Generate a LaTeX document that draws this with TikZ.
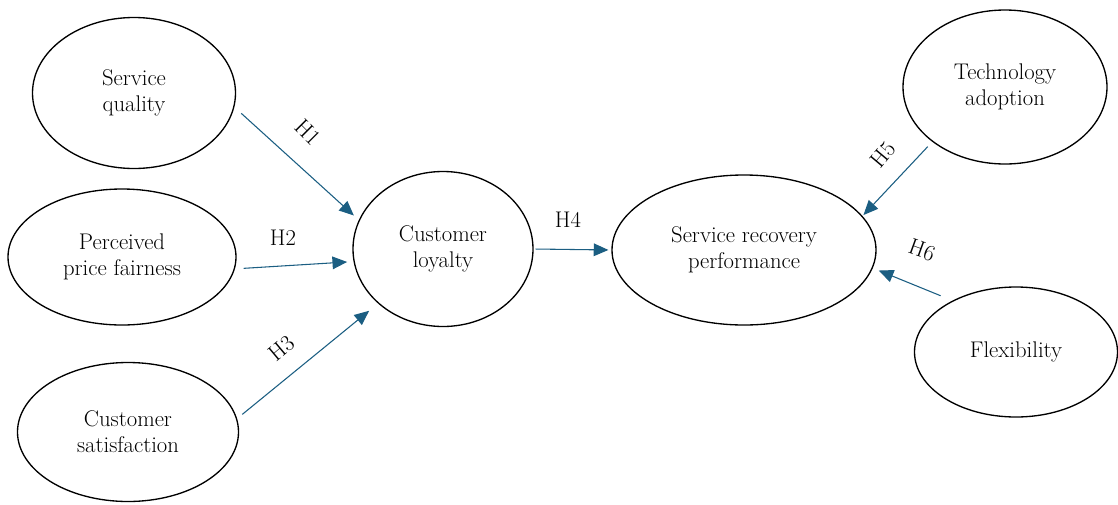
\documentclass[tikz,border=0pt]{standalone}
\usepackage{fontspec}
\setmainfont{Latin Modern Roman}
\usetikzlibrary{arrows.meta,shapes.geometric}
\definecolor{arrowblue}{RGB}{27,94,130}
\begin{document}
\begin{tikzpicture}[x=0.75pt,y=-0.75pt,
  construct/.style={draw=black,line width=1pt,ellipse,inner sep=0pt,align=center,font=\fontsize{17}{19.5}\selectfont},
  hyp/.style={draw=arrowblue,line width=0.8pt,-{Triangle[length=11pt,width=9.5pt,fill=arrowblue]}},
  hlabel/.style={font=\fontsize{17}{17}\selectfont,inner sep=0pt}]
\useasboundingbox (0,0) rectangle (1118,504);

\node[construct,minimum width=152.25pt,minimum height=113.25pt] (sq) at (134,93) {Service\\quality};
\node[construct,minimum width=171pt,minimum height=102pt] (ppf) at (122,257) {Perceived\\price fairness};
\node[construct,minimum width=165.75pt,minimum height=104.25pt] (cs) at (128,432) {Customer\\satisfaction};
\node[construct,minimum width=135pt,minimum height=116.25pt] (cl) at (443,249) {Customer\\loyalty};
\node[construct,minimum width=198pt,minimum height=112.5pt] (srp) at (744,250) {Service recovery\\performance};
\node[construct,minimum width=153pt,minimum height=115.5pt] (ta) at (1005,87) {Technology\\adoption};
\node[construct,minimum width=152.25pt,minimum height=97.5pt] (fl) at (1016,352) {Flexibility};

\draw[hyp,shorten <=7pt,shorten >=5pt] (sq.-8) -- (cl.161);
\draw[hyp,shorten <=6.6pt,shorten >=4.8pt] (ppf.-6) -- (cl.188);
\draw[hyp,shorten <=5pt,shorten >=8.6pt] (cs.7) -- (cl.-140);
\draw[hyp,shorten <=1.5pt,shorten >=2.2pt] (cl.east) -- (srp.west);
\draw[hyp,shorten <=5pt,shorten >=1pt] (ta.217) -- (srp.16);
\draw[hyp,shorten <=9.6pt,shorten >=4.8pt] (fl.141) -- (srp.-8.5);

\node[hlabel,rotate=-45] (l1) at (308,132) {H1};
\node[hlabel] (l2) at (283,238) {H2};
\node[hlabel,rotate=40] (l3) at (282,348) {H3};
\node[hlabel] (l4) at (568,220) {H4};
\node[hlabel,rotate=50] (l5) at (883,155) {H5};
\node[hlabel,rotate=-20] (l6) at (922,250) {H6};
\end{tikzpicture}
\end{document}
